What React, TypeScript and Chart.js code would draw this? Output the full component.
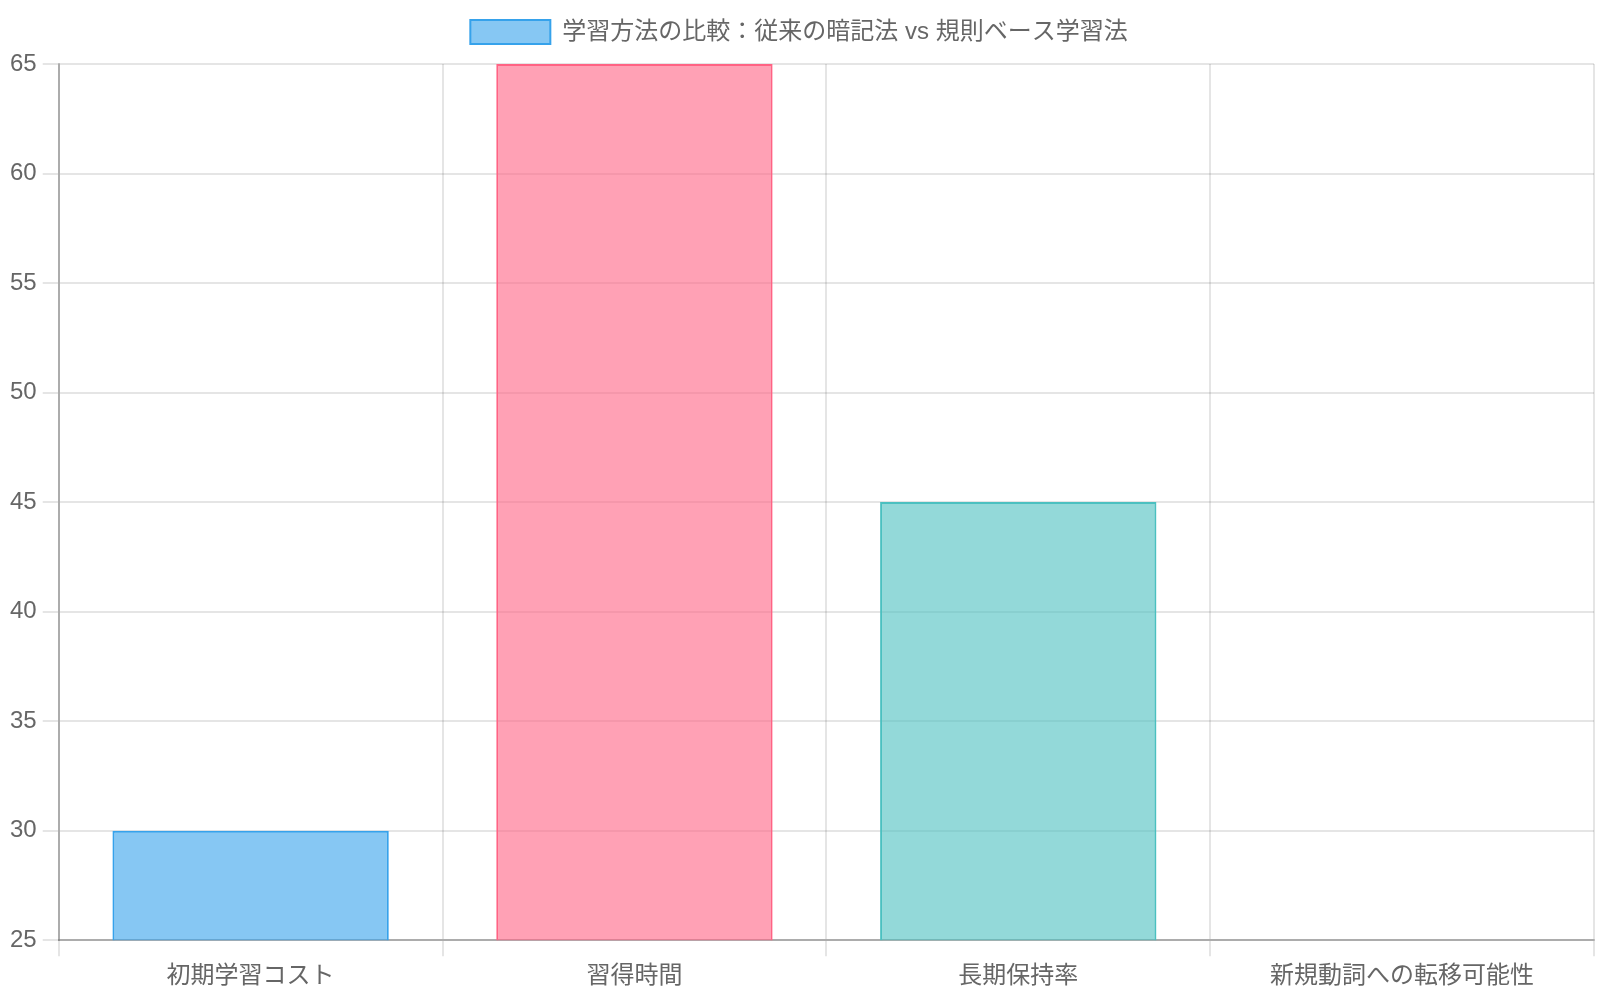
import React, { useEffect, useRef } from "react";
import { Chart, registerables } from "chart.js";

Chart.register(...registerables);

const categories = ["初期学習コスト", "習得時間", "長期保持率", "新規動詞への転移可能性"];
const values = [30, 65, 45, 20];
const datasetLabel = "学習方法の比較：従来の暗記法 vs 規則ベース学習法";
const fillColors = [
  "rgba(54, 162, 235, 0.6)",
  "rgba(255, 99, 132, 0.6)",
  "rgba(75, 192, 192, 0.6)",
  "rgba(255, 206, 86, 0.6)",
];
const borderColors = [
  "rgba(54, 162, 235, 1)",
  "rgba(255, 99, 132, 1)",
  "rgba(75, 192, 192, 1)",
  "rgba(255, 206, 86, 1)",
];
const yMin = 25;
const yMax = 65;
const yStep = 5;

const FONT = "'Helvetica Neue', Helvetica, Arial, 'Noto Sans CJK JP', sans-serif";

const legendMargin = {
  id: "legendMargin",
  beforeInit(chart: any) {
    const orig = chart.legend.fit;
    chart.legend.fit = function () {
      orig.bind(chart.legend)();
      this.height += 10;
    };
  },
};

export default function App() {
  const ref = useRef<HTMLCanvasElement | null>(null);
  useEffect(() => {
    document.body.style.margin = "0";
    const ctx = ref.current!;
    const chart = new Chart(ctx, {
      type: "bar",
      data: {
        labels: categories,
        datasets: [
          {
            label: datasetLabel,
            data: values,
            backgroundColor: fillColors,
            borderColor: borderColors,
            borderWidth: 2,
          },
        ],
      },
      plugins: [legendMargin],
      options: {
        responsive: false,
        animation: false,
        font: { family: FONT, size: 24 },
        color: "#666",
        layout: { padding: { left: 4, right: 6, bottom: 3, top: 0 } },
        plugins: {
          legend: {
            labels: {
              boxWidth: 80,
              boxHeight: 24,
              padding: 20,
              color: "#666",
              font: { family: FONT, size: 24 },
              generateLabels: () => [
                {
                  text: datasetLabel,
                  fillStyle: fillColors[0],
                  strokeStyle: borderColors[0],
                  fontColor: "#666",
                  lineWidth: 2,
                  hidden: false,
                  datasetIndex: 0,
                } as any,
              ],
            },
          },
          tooltip: { enabled: false },
        },
        scales: {
          x: {
            grid: {
              color: "rgba(0,0,0,0.1)",
              lineWidth: 2,
              tickLength: 16,
              offset: true,
            },
            border: { color: "rgba(0,0,0,0.25)", width: 2 },
            ticks: { color: "#666", font: { family: FONT, size: 24 }, padding: 6 },
          },
          y: {
            min: yMin,
            max: yMax,
            grid: { color: "rgba(0,0,0,0.1)", lineWidth: 2, tickLength: 16 },
            border: { color: "rgba(0,0,0,0.25)", width: 2 },
            ticks: {
              stepSize: yStep,
              color: "#666",
              font: { family: FONT, size: 24 },
              padding: 6,
            },
          },
        },
      },
    });
    return () => chart.destroy();
  }, []);
  return (
    <div style={{ position: "absolute", left: 0, top: 0, width: 1600, height: 1000 }}>
      <canvas ref={ref} width={1600} height={1000} style={{ width: 1600, height: 1000 }} />
    </div>
  );
}
